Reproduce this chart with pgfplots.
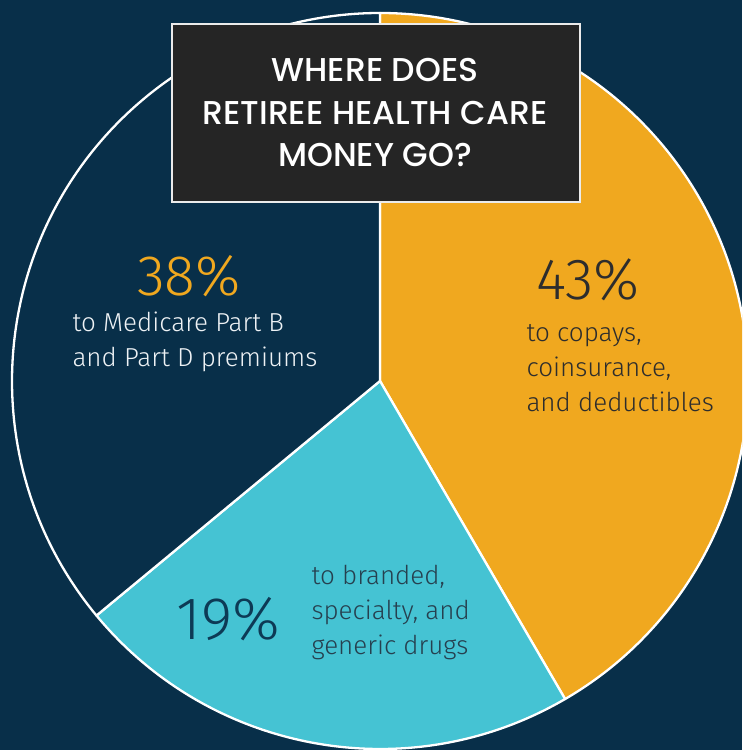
\documentclass[border=0pt]{standalone}
\usepackage{pgfplots}
\pgfplotsset{compat=1.18}
\usepackage{fontspec}
\setmainfont{Fira Sans Light}
\newfontfamily\titlefont{Poppins Medium}
\definecolor{bgnavy}{HTML}{082F49}
\definecolor{pieorange}{HTML}{F0A81F}
\definecolor{piecyan}{HTML}{45C3D3}
\definecolor{boxgray}{HTML}{252525}
\definecolor{darktext}{HTML}{2D2D2D}
\definecolor{navytext}{HTML}{0D3A55}
\definecolor{cyantext}{HTML}{26404F}
\definecolor{whitetext}{HTML}{EEF2F5}
\begin{document}
\begin{tikzpicture}
\begin{axis}[
  scale only axis, width=742pt, height=750pt,
  xmin=0, xmax=742, ymin=0, ymax=750,
  hide axis, clip=true,
]
% background
\fill[bgnavy] (axis cs:0,0) rectangle (axis cs:742,750);
% pie slices: 43% (90 -> -59.8), 19% (-59.8 -> -140.4), 38% (-140.4 -> -270)
\filldraw[fill=pieorange, draw=white, line width=2.3pt, line join=round]
  (axis cs:380,369) -- ++(90:368pt) arc[start angle=90, end angle=-59.8, radius=368pt] -- cycle;
\filldraw[fill=piecyan, draw=white, line width=2.3pt, line join=round]
  (axis cs:380,369) -- ++(-59.8:368pt) arc[start angle=-59.8, end angle=-140.4, radius=368pt] -- cycle;
\filldraw[fill=bgnavy, draw=white, line width=2.3pt, line join=round]
  (axis cs:380,369) -- ++(-140.4:368pt) arc[start angle=-140.4, end angle=-270, radius=368pt] -- cycle;
% title box
\filldraw[fill=boxgray, draw=white!92!black, line width=1.8pt] (axis cs:172,726) rectangle (axis cs:580,548);
\node[anchor=base, text=white, font=\titlefont\fontsize{33}{33}\selectfont] at (axis cs:375,668) {WHERE DOES};
\node[anchor=base, text=white, font=\titlefont\fontsize{33}{33}\selectfont] at (axis cs:375,625) {RETIREE HEALTH CARE};
\node[anchor=base, text=white, font=\titlefont\fontsize{33}{33}\selectfont] at (axis cs:375,583) {MONEY GO?};
% 38%
\node[anchor=base, text=pieorange, font=\fontsize{57}{57}\selectfont] at (axis cs:189,454) {38\%};
\node[anchor=base west, text=whitetext, font=\fontsize{26}{26}\selectfont] at (axis cs:69,418) {to Medicare Part B};
\node[anchor=base west, text=whitetext, font=\fontsize{26}{26}\selectfont] at (axis cs:69,383) {and Part D premiums};
% 43%
\node[anchor=base, text=darktext, font=\fontsize{58}{58}\selectfont] at (axis cs:588,450) {43\%};
\node[anchor=base west, text=darktext, font=\fontsize{26}{26}\selectfont] at (axis cs:523,408) {to copays,};
\node[anchor=base west, text=darktext, font=\fontsize{26}{26}\selectfont] at (axis cs:523,373) {coinsurance,};
\node[anchor=base west, text=darktext, font=\fontsize{26}{26}\selectfont] at (axis cs:523,338) {and deductibles};
% 19%
\node[anchor=base, text=navytext, font=\fontsize{60}{60}\selectfont] at (axis cs:228,110) {19\%};
\node[anchor=base west, text=cyantext, font=\fontsize{26}{26}\selectfont] at (axis cs:308,165) {to branded,};
\node[anchor=base west, text=cyantext, font=\fontsize{26}{26}\selectfont] at (axis cs:308,130) {specialty, and};
\node[anchor=base west, text=cyantext, font=\fontsize{26}{26}\selectfont] at (axis cs:308,95) {generic drugs};
\end{axis}
\pgfresetboundingbox
\path (current axis.south west) rectangle (current axis.north east);
\end{tikzpicture}
\end{document}
